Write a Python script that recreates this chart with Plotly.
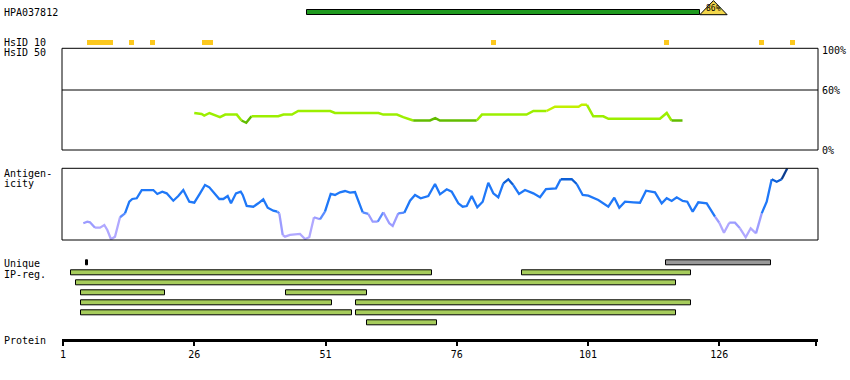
import plotly.graph_objects as go

# ---------------- data ----------------
protein_len = 144
tick_vals = [1, 26, 51, 76, 101, 126]

target_name = "HPA037812"
target_start = 47.5
target_end = 122.3
target_identity = "86%"

hsid10_start = [5.5, 13.5, 17.5, 27.5, 82.5, 115.5, 133.5, 139.5]
hsid10_end = [10.5, 14.5, 18.5, 29.5, 83.5, 116.5, 134.5, 140.5]

ident_pos = [26.0, 27.4, 27.9, 28.9, 30.9, 31.9, 34.1, 35.0, 35.9, 36.9, 42.0, 43.0,
             44.6, 45.8, 51.9, 52.8, 61.1, 62.0, 64.6, 65.8, 67.7, 70.9, 71.9, 72.8,
             79.8, 80.8, 89.3, 90.6, 93.1, 94.7, 99.2, 99.8, 100.8, 102.0, 103.9,
             104.9, 114.7, 116.0, 116.9, 119.0]
ident_val = [37.1, 36.0, 34.4, 37.0, 32.8, 35.4, 35.4, 29.5, 27.2, 33.7, 33.7, 35.4,
             35.4, 39.0, 39.0, 37.0, 37.0, 35.4, 35.4, 32.8, 29.5, 29.5, 31.8, 29.5,
             29.5, 35.4, 35.4, 39.0, 39.0, 43.3, 43.3, 45.2, 45.2, 33.7, 33.7,
             31.2, 31.2, 37.0, 29.5, 29.5]

anti_pos = [4.87, 5.63, 6.14, 7.10, 8.05, 8.87, 9.44, 10.14, 10.90, 11.86, 12.81, 13.63,
            14.20, 15.04, 15.99, 18.20, 18.96, 19.91, 20.75, 22.01, 22.96, 23.91, 25.06,
            26.01, 27.10, 28.05, 28.87, 29.63, 30.77, 31.53, 32.37, 33.00, 33.95, 34.85,
            35.23, 35.99, 37.25, 38.20, 39.15, 39.99, 41.06, 41.82, 42.20, 42.85, 43.29,
            44.24, 46.14, 47.10, 47.91, 48.81, 49.95, 50.90, 51.99, 52.81, 53.76, 54.71,
            55.67, 56.62, 57.25, 58.09, 59.15, 59.99, 60.94, 62.01, 63.15, 63.80, 64.87,
            66.01, 67.10, 68.05, 69.13, 70.58, 71.86, 72.81, 74.09, 75.04, 76.30, 77.13,
            77.90, 78.85, 79.91, 80.94, 82.01, 82.96, 83.91, 84.87, 85.82, 86.77, 87.86,
            89.00, 90.58, 91.86, 93.00, 94.90, 95.80, 97.90, 98.85, 99.99, 101.06, 102.96,
            104.87, 106.01, 106.96, 108.05, 109.63, 110.90, 112.05, 113.76, 115.04,
            115.99, 116.94, 117.90, 119.04, 119.91, 120.94, 122.01, 123.61, 125.19,
            126.01, 126.90, 127.91, 129.00, 129.95, 131.04, 131.99, 133.00, 134.09,
            135.04, 135.99, 136.94, 137.89, 138.96]
anti_val = [23.3, 25.5, 24.7, 17.2, 17.2, 20.9, 13.9, 1.0, 4.6, 31.7, 37.2, 53.4,
            57.2, 58.2, 69.7, 69.7, 64.2, 67.4, 65.1, 54.8, 61.4, 69.7, 53.4,
            52.0, 65.1, 76.7, 73.5, 67.4, 57.2, 57.2, 61.4, 51.2, 65.1, 67.4,
            62.8, 47.4, 46.4, 51.2, 56.8, 45.0, 40.9, 39.5, 37.2, 7.0, 4.6,
            7.0, 8.4, 1.4, 3.8, 31.7, 28.9, 39.5, 64.2, 62.8, 66.5, 68.3,
            66.0, 66.9, 55.8, 38.6, 36.3, 25.5, 25.5, 38.6, 23.3, 19.5, 37.2,
            38.1, 54.8, 62.8, 58.2, 61.4, 78.1, 63.7, 70.7, 67.4, 51.2, 46.4,
            47.4, 61.4, 45.6, 53.4, 79.9, 65.1, 59.6, 79.1, 84.7, 76.7, 64.2,
            69.7, 65.1, 59.6, 71.1, 72.1, 84.7, 84.7, 78.1, 62.8, 61.8, 55.8,
            46.4, 59.0, 45.0, 53.4, 52.6, 52.0, 68.8, 66.5, 51.2,
            58.2, 54.4, 59.6, 54.4, 53.4, 39.5, 52.6, 51.2, 32.5,
            24.1, 10.2, 24.1, 24.1, 16.3, 3.8, 16.3, 9.3, 37.2,
            53.4, 84.7, 81.3, 84.7, 100.0]

unique_start = [5.35, 115.9]
unique_end = [5.7, 135.9]
unique_color = ["#000000", "#999999"]

ip_row = [1, 1, 2, 3, 3, 4, 4, 5, 5, 6]
ip_start = [2.5, 88.4, 3.5, 4.5, 43.5, 4.5, 56.9, 4.5, 56.9, 58.9]
ip_end = [71.2, 120.6, 117.8, 20.5, 58.9, 52.2, 120.6, 56.0, 117.8, 72.2]

# ---------------- geometry helpers ----------------
W, H = 850, 380
def py(p):  # pixel row -> paper y
    return 1 - p / H

PX_PER_RES = 5.25
x0 = 1 - 1 / PX_PER_RES
x1 = x0 + 756 / PX_PER_RES

MONO = "DejaVu Sans Mono"

fig = go.Figure()

# ---- top tracks (target + HsID 10) on 'y' ----
fig.add_trace(go.Bar(
    orientation="h", y=[0], base=[target_start], x=[target_end - target_start],
    width=5 / 30, marker=dict(color="#1f9a1f", line=dict(color="black", width=1)),
    yaxis="y", hoverinfo="skip", showlegend=False))
tri_w = 5.2
fig.add_trace(go.Scatter(
    x=[target_end, target_end + tri_w, target_end + tri_w / 2, target_end],
    y=[0.08, 0.08, -0.39, 0.08], mode="lines", fill="toself",
    fillcolor="#f2d64b", line=dict(color="black", width=1),
    yaxis="y", hoverinfo="skip", showlegend=False, cliponaxis=False))
fig.add_trace(go.Bar(
    orientation="h", y=[1] * len(hsid10_start), base=hsid10_start,
    x=[e - s for s, e in zip(hsid10_start, hsid10_end)],
    width=5 / 30, marker=dict(color="#fcc81e", line=dict(width=0)),
    yaxis="y", hoverinfo="skip", showlegend=False))

# ---- colour-segment helper ----
def add_segments(xs, vs, color_fn, yaxis, width):
    runs = []
    cur = None
    for i in range(len(xs) - 1):
        c = color_fn((vs[i] + vs[i + 1]) / 2)
        if cur is None or c != cur[0]:
            if cur is not None:
                runs.append(cur)
            cur = [c, [xs[i]], [vs[i]]]
        cur[1].append(xs[i + 1])
        cur[2].append(vs[i + 1])
    runs.append(cur)
    for c, rx, rv in runs:
        fig.add_trace(go.Scatter(x=rx, y=rv, mode="lines",
                                 line=dict(color=c, width=width),
                                 yaxis=yaxis, hoverinfo="skip", showlegend=False))

def ident_color(v):
    if v < 31:
        return "#62bc00"
    if v < 41:
        return "#9cef00"
    return "#c2f000"

def anti_color(v):
    if v < 20:
        return "#b0a8ff"
    if v < 32:
        return "#9c9cff"
    if v < 40:
        return "#5c8cff"
    if v < 80:
        return "#1f78f8"
    if v < 92:
        return "#0c5fd6"
    return "#0b3d8f"

add_segments(ident_pos, ident_val, ident_color, "y2", 2.5)
add_segments(anti_pos, anti_val, anti_color, "y3", 2.3)

# ---- unique + IP regions on 'y4' ----
fig.add_trace(go.Bar(
    orientation="h", y=[0] * len(unique_start), base=unique_start,
    x=[e - s for s, e in zip(unique_start, unique_end)],
    width=0.5, marker=dict(color=unique_color, line=dict(color="black", width=1)),
    yaxis="y4", hoverinfo="skip", showlegend=False))
fig.add_trace(go.Bar(
    orientation="h", y=ip_row, base=ip_start,
    x=[e - s for s, e in zip(ip_start, ip_end)],
    width=0.5, marker=dict(color="#a6cc5c", line=dict(color="black", width=1)),
    yaxis="y4", hoverinfo="skip", showlegend=False))

# ---- frames ----
shapes = []
for ya in ["y2", "y3"]:
    shapes.append(dict(type="rect", xref="paper", x0=0, x1=1,
                       yref=f"{ya} domain", y0=0, y1=1,
                       line=dict(color="black", width=1), fillcolor="rgba(0,0,0,0)"))
shapes.append(dict(type="line", xref="paper", x0=0, x1=1, yref="y2", y0=60, y1=60,
                   line=dict(color="black", width=1)))

# ---- text labels ----
ann = []
def label(text, ypix, xpix=2, size=10):
    ann.append(dict(text=text, xref="paper", x=(xpix - 62) / 756, xanchor="left",
                    yref="paper", y=py(ypix), yanchor="middle", showarrow=False,
                    font=dict(family=MONO, size=size, color="black")))

label(target_name, 12.5)
label("HsID 10", 42.5)
label("HsID 50", 52.5)
label("Antigen-", 173.5)
label("icity", 183.5)
label("Unique", 263)
label("IP-reg.", 274)
label("Protein", 340)
for v, t in [(100, "100%"), (60, "60%"), (0, "0%")]:
    ann.append(dict(text=t, xref="paper", x=1.002, xanchor="left", yref="y2", y=v,
                    yanchor="middle", showarrow=False,
                    font=dict(family=MONO, size=10, color="black")))
ann.append(dict(text=target_identity, xref="x", x=target_end + tri_w / 2,
                yref="y", y=-0.12, yanchor="middle", xanchor="center", showarrow=False,
                font=dict(family=MONO, size=8, color="black")))

def dom(top, bottom):
    return [py(bottom), py(top)]

fig.update_layout(
    width=W, height=H, margin=dict(l=62, r=32, t=0, b=0),
    paper_bgcolor="white", plot_bgcolor="white", barmode="overlay",
    bargap=0, shapes=shapes, annotations=ann,
    xaxis=dict(range=[x0, x1], anchor="free", position=py(339.5),
               showline=True, linecolor="black", linewidth=3,
               ticks="outside", ticklen=4, tickwidth=2, tickcolor="black",
               tickvals=tick_vals + [protein_len + 0.5],
               ticktext=[str(t) for t in tick_vals] + [""],
               tickfont=dict(family=MONO, size=10, color="black"),
               showgrid=False, zeroline=False),
    yaxis=dict(domain=dom(0, 47), range=[(47 - 12.3) / 30, -12.3 / 30],
               visible=False, fixedrange=True),
    yaxis2=dict(domain=dom(48.3, 150), range=[0, 101.7], visible=False),
    yaxis3=dict(domain=dom(168.3, 240), range=[0, 100], visible=False),
    yaxis4=dict(domain=dom(252.3, 332.3), range=[7, -1], visible=False),
)

fig.write_html("out.html")
